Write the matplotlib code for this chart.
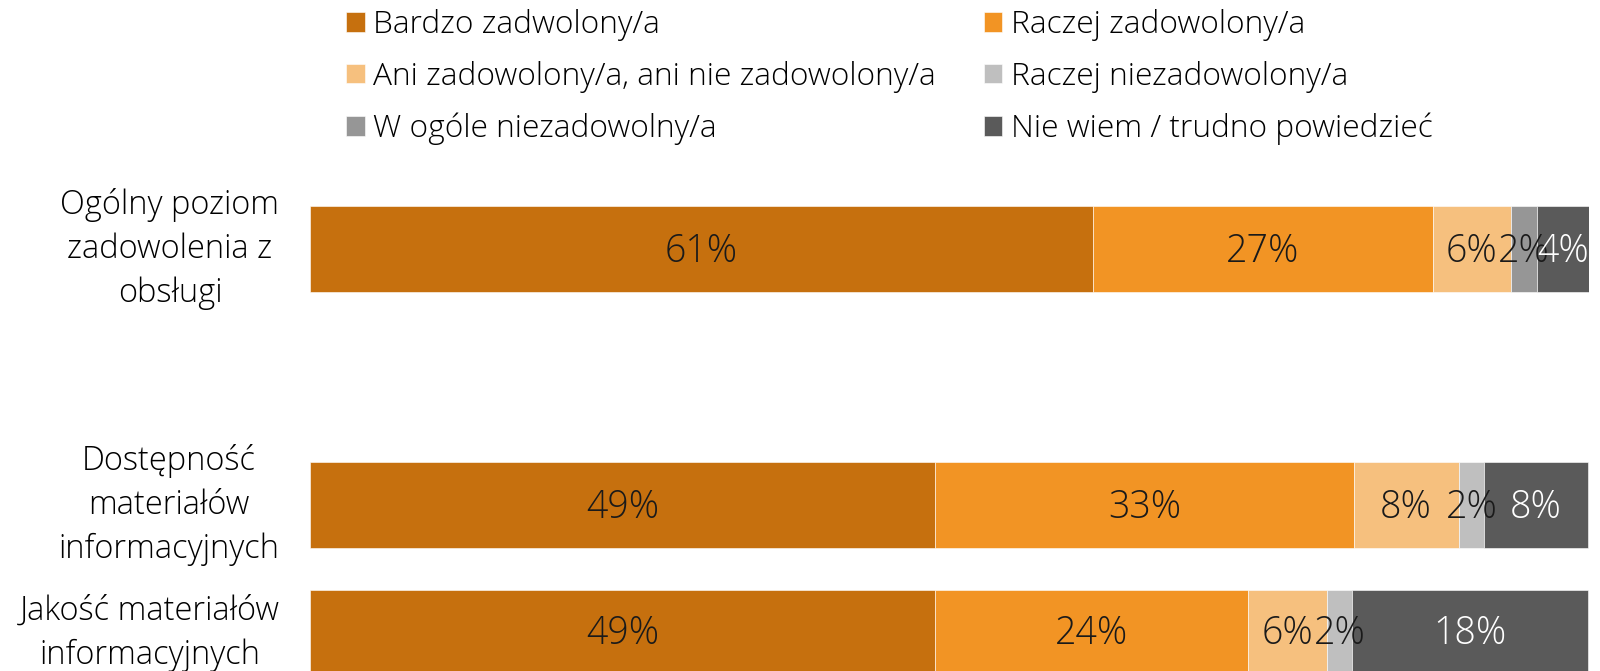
import matplotlib.pyplot as plt
import numpy as np

plt.rcParams['font.family'] = ['Open Sans', 'DejaVu Sans']

# -------------------------
# DATA
# -------------------------
categories = [
    "Ogólny poziom\nzadowolenia z\nobsługi",
    "",
    "Dostępność\nmateriałów\ninformacyjnych",
    "Jakość materiałów\ninformacyjnych",
]
series = [
    "Bardzo zadwolony/a",
    "Raczej zadowolony/a",
    "Ani zadowolony/a, ani nie zadowolony/a",
    "Raczej niezadowolony/a",
    "W ogóle niezadowolny/a",
    "Nie wiem / trudno powiedzieć",
]
bardzo = [61.2, 0, 48.9, 48.9]
raczej = [26.6, 0, 32.7, 24.4]
ani = [6.1, 0, 8.2, 6.2]
raczej_nie = [0, 0, 2.0, 2.0]
w_ogole = [2.0, 0, 0, 0]
nie_wiem = [4.1, 0, 8.1, 18.4]

colors = ["#C6700E", "#F29424", "#F6C07E", "#BFBFBF", "#969696", "#5A5A5A"]
label_colors = ["#1a1a1a", "#1a1a1a", "#1a1a1a", "#1a1a1a", "#1a1a1a", "white"]

# -------------------------
# PLOT
# -------------------------
fig = plt.figure(figsize=(16, 6.71), dpi=100)
H = 671.0
ax = fig.add_axes([310 / 1600, 0, 1279 / 1600, (H - 160) / H])

y = np.arange(len(categories))
left = np.zeros(len(categories))
handles = []
for name, vals, col, lcol in zip(series, [bardzo, raczej, ani, raczej_nie, w_ogole, nie_wiem],
                                 colors, label_colors):
    vals = np.array(vals, dtype=float)
    bars = ax.barh(y, vals, left=left, height=0.672, color=col,
                   edgecolor="white", linewidth=0.4, label=name)
    handles.append(bars)
    labels = [f"{round(v)}%" if v > 0 else "" for v in vals]
    anns = ax.bar_label(bars, labels=labels, label_type="center", color=lcol,
                        fontsize=27, fontweight="light")
    for a in anns:
        a.xyann = (0, -2.2)  # nudge a bit lower like the original
    left += vals

ax.set_xlim(0, 100)
ax.set_ylim(3.297, -0.695)
ax.set_yticks(y)
ax.set_yticklabels(categories, fontsize=23.5, fontweight="light",
                   multialignment="center", linespacing=1.42)
for t in ax.get_yticklabels():
    t.set_va("center")
ax.tick_params(axis="y", length=0, pad=22)
ax.set_xticks([])
for s in ax.spines.values():
    s.set_visible(False)

# legend row-wise in 2 columns
order = [0, 2, 4, 1, 3, 5]
fig.legend([handles[i] for i in order], [series[i] for i in order],
           ncol=2, loc="upper left", bbox_to_anchor=(343 / 1600, 1 - 6 / H),
           frameon=False, prop={"weight": "light", "size": 22.8},
           handlelength=0.58, handleheight=0.58, handletextpad=0.28,
           columnspacing=1.5, labelspacing=0.62, borderpad=0.1,
           borderaxespad=0)

fig.savefig("out.png", dpi=100)
